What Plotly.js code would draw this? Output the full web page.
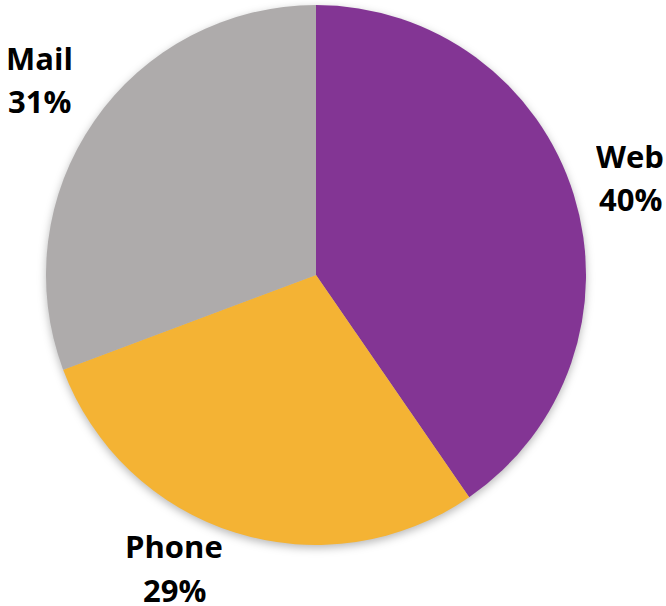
<!DOCTYPE html>
<html>
<head>
<meta charset="utf-8">
<script src="https://cdn.plot.ly/plotly-3.0.1.min.js"></script>
<style>
html,body{margin:0;padding:0;background:#fff;}
#chart{width:666px;height:606px;}
.pielayer .trace{filter:drop-shadow(0px 3px 4px rgba(0,0,0,0.28));}
</style>
</head>
<body>
<div id="chart"></div>
<script>
const categories = ["Web", "Phone", "Mail"];
const values = [40.4, 28.9, 30.7];
const colors = ["#833594", "#F4B334", "#AEABAB"];

const W = 666, H = 606;
const cx = 316, cy = 275, R = 270;
// label anchor positions (px) for each category: [x, y of first line center, y of second line center]
const labelPos = [[630, 156, 199], [174, 546, 590], [39, 58, 101]];

const total = values.reduce((a, b) => a + b, 0);
const annotations = [];
categories.forEach((c, i) => {
  const pct = Math.round(values[i] / total * 100) + "%";
  const [x, y1, y2] = labelPos[i];
  [[c, y1], [pct, y2]].forEach(([t, y]) => {
    annotations.push({
      text: t, xref: "paper", yref: "paper",
      x: x / W, y: 1 - y / H, xanchor: "center", yanchor: "middle",
      height: 30, valign: "middle",
      showarrow: false,
      font: {family: "Open Sans, Liberation Sans, Arial, sans-serif", size: 31, color: "#000", weight: "bold"}
    });
  });
});

const data = [{
  type: "pie",
  labels: categories,
  values: values,
  marker: {colors: colors, line: {width: 0}},
  sort: false,
  direction: "clockwise",
  rotation: 0,
  textinfo: "none",
  hoverinfo: "label+percent",
  showlegend: false,
  domain: {x: [(cx - R) / W, (cx + R) / W], y: [1 - (cy + R) / H, 1 - (cy - R) / H]}
}];

const layout = {
  width: W, height: H,
  margin: {l: 0, r: 0, t: 0, b: 0},
  paper_bgcolor: "#fff",
  showlegend: false,
  annotations: annotations
};

Plotly.newPlot("chart", data, layout, {displayModeBar: false, staticPlot: true});
</script>
</body>
</html>
